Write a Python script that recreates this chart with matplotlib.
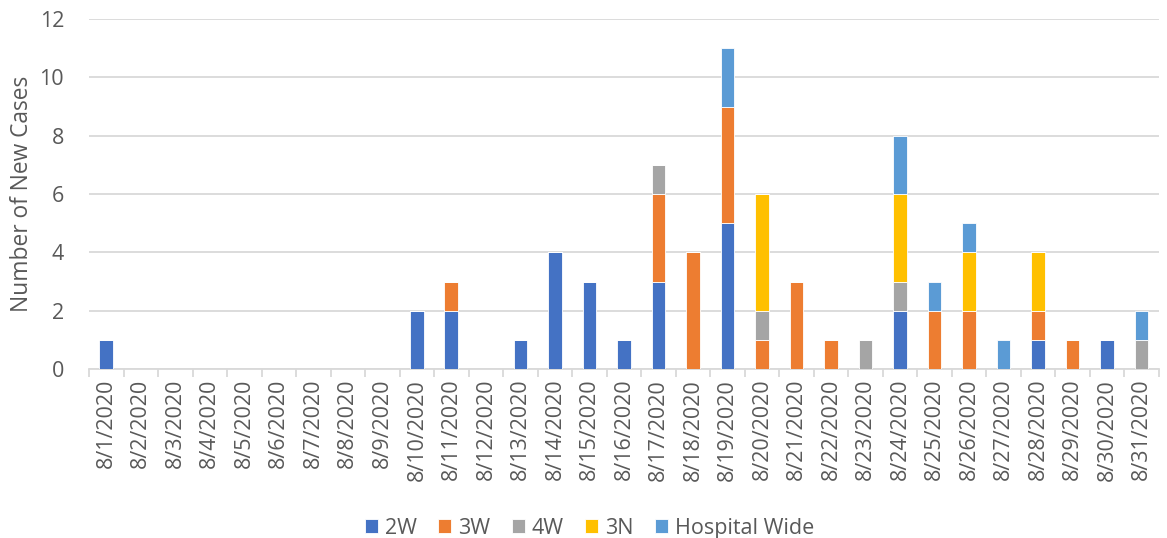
import matplotlib
matplotlib.use("Agg")
import matplotlib.pyplot as plt
import numpy as np

plt.rcParams['font.family'] = ['Open Sans', 'DejaVu Sans']

dates = [f"8/{d}/2020" for d in range(1, 32)]
series_names = ["2W", "3W", "4W", "3N", "Hospital Wide"]
colors = ["#4472C4", "#ED7D31", "#A5A5A5", "#FFC000", "#5B9BD5"]

w2 = [1,0,0,0,0,0,0,0,0,2,2,0,1,4,3,1,3,0,5,0,0,0,0,2,0,0,0,1,0,1,0]
w3 = [0,0,0,0,0,0,0,0,0,0,1,0,0,0,0,0,3,4,4,1,3,1,0,0,2,2,0,1,1,0,0]
w4 = [0,0,0,0,0,0,0,0,0,0,0,0,0,0,0,0,1,0,0,1,0,0,1,1,0,0,0,0,0,0,1]
n3 = [0,0,0,0,0,0,0,0,0,0,0,0,0,0,0,0,0,0,0,4,0,0,0,3,0,2,0,2,0,0,0]
hw = [0,0,0,0,0,0,0,0,0,0,0,0,0,0,0,0,0,0,2,0,0,0,0,2,1,1,1,0,0,0,1]
series = [w2, w3, w4, n3, hw]

fig = plt.figure(figsize=(11.67, 5.38), dpi=100)
ax = fig.add_axes([0.0763, 0.314, 0.9167, 0.6506])

x = np.arange(len(dates))
bottom = np.zeros(len(dates))
for name, vals, c in zip(series_names, series, colors):
    v = np.array(vals, dtype=float)
    ax.bar(x, v, 0.4, bottom=bottom, color=c, label=name,
           edgecolor="white", linewidth=0.6, zorder=3)
    bottom += v

txt = "#595959"
ax.set_xlim(-0.5, len(dates) - 0.5)
ax.set_ylim(0, 12)
ax.set_yticks(range(0, 13, 2))
ax.yaxis.grid(True, color="#D9D9D9", linewidth=1.3, zorder=0)
ax.set_axisbelow(True)
for s in ["top", "right", "left"]:
    ax.spines[s].set_visible(False)
ax.spines["bottom"].set_color("#D9D9D9")
ax.spines["bottom"].set_linewidth(1.3)

ax.set_xticks(x)
ax.set_xticklabels(dates, rotation=90, fontsize=15.5, color=txt)
ax.tick_params(axis="x", which="major", length=0, pad=7)
ax.set_xticks(np.arange(-0.5, len(dates), 1), minor=True)
ax.tick_params(axis="x", which="minor", length=6, color="#D9D9D9", width=1.3)
ax.tick_params(axis="y", length=0, labelsize=15.5, labelcolor=txt, pad=18)
ax.set_ylabel("Number of New Cases", fontsize=16.4, color=txt, labelpad=4)

leg = fig.legend(loc="lower center", bbox_to_anchor=(0.505, -0.037), ncol=5,
                 frameon=False, fontsize=15.5, handlelength=0.62, handleheight=0.62,
                 handletextpad=0.3, columnspacing=1.0)
for t in leg.get_texts():
    t.set_color(txt)

fig.savefig("out.png", dpi=100)
